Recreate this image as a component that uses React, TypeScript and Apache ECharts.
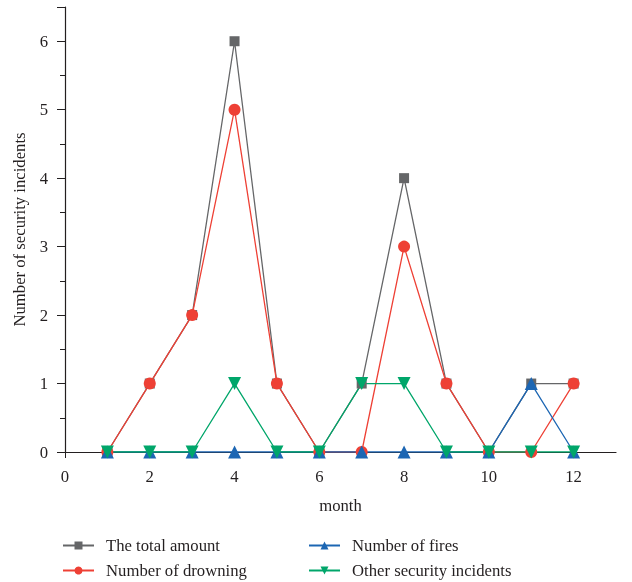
import React, { useEffect, useRef } from "react";
import * as echarts from "echarts";

const months = [1, 2, 3, 4, 5, 6, 7, 8, 9, 10, 11, 12];
const totalAmount = [0, 1, 2, 6, 1, 0, 1, 4, 1, 0, 1, 1];
const drowning = [0, 1, 2, 5, 1, 0, 0, 3, 1, 0, 0, 1];
const fires = [0, 0, 0, 0, 0, 0, 0, 0, 0, 0, 1, 0];
const others = [0, 0, 0, 1, 0, 0, 1, 1, 0, 0, 0, 0];

const seriesNames = [
  "The total amount",
  "Number of drowning",
  "Number of fires",
  "Other security incidents",
];

const FONT = "Liberation Serif, Times New Roman, DejaVu Serif, serif";
const TEXT = "#231f20";

export default function App() {
  const ref = useRef<HTMLDivElement>(null);
  useEffect(() => {
    if (!ref.current) return;
    const chart = echarts.init(ref.current, undefined, { renderer: "svg" });
    const pair = (vals: number[]) => months.map((m, i) => [m, vals[i]]);
    const mk = (name: string, vals: number[], color: string, symbol: string, size: number, rotate = 0) => ({
      name,
      type: "line",
      data: pair(vals),
      symbol,
      symbolSize: size,
      symbolRotate: rotate,
      showAllSymbol: true,
      lineStyle: { color, width: 1.3 },
      itemStyle: { color },
      emphasis: { disabled: true },
    });
    const legendBase = {
      orient: "vertical",
      bottom: 3,
      itemWidth: 31,
      itemHeight: 10,
      itemGap: 8,
      padding: 0,
      textStyle: { fontFamily: FONT, fontSize: 16.7, color: TEXT, padding: [0, 0, 0, 7] },
    };
    chart.setOption({
      animation: false,
      textStyle: { fontFamily: FONT },
      grid: { left: 65, right: 16, top: 7, bottom: 130 },
      legend: [
        { ...legendBase, data: [seriesNames[0], seriesNames[1]], left: 62 },
        { ...legendBase, data: [seriesNames[2], seriesNames[3]], left: 308 },
      ],
      xAxis: {
        type: "value",
        min: 0,
        max: 13,
        interval: 2,
        name: "month",
        nameLocation: "middle",
        nameGap: 45,
        nameTextStyle: { fontFamily: FONT, fontSize: 16.7, color: TEXT },
        axisLine: { lineStyle: { color: TEXT, width: 1.2 } },
        axisTick: { show: true, inside: false, length: 6, lineStyle: { color: TEXT } },
        axisLabel: {
          fontFamily: FONT,
          fontSize: 16.7,
          color: TEXT,
          margin: 16,
          showMaxLabel: false,
        },
        splitLine: { show: false },
      },
      yAxis: {
        type: "value",
        min: 0,
        max: 6.5,
        interval: 1,
        name: "Number of security incidents",
        nameLocation: "middle",
        nameGap: 37,
        nameTextStyle: { fontFamily: FONT, fontSize: 16.7, color: TEXT },
        axisLine: { show: true, lineStyle: { color: TEXT, width: 1.2 } },
        axisTick: { show: true, length: 8, lineStyle: { color: TEXT } },
        minorTick: { show: true, splitNumber: 2, length: 5, lineStyle: { color: TEXT } },
        axisLabel: {
          fontFamily: FONT,
          fontSize: 16.7,
          color: TEXT,
          margin: 17,
          showMaxLabel: false,
        },
        splitLine: { show: false },
      },
      series: [
        mk(seriesNames[0], totalAmount, "#656668", "rect", 10),
        mk(seriesNames[1], drowning, "#ee4035", "circle", 12),
        mk(seriesNames[2], fires, "#1c66b3", "triangle", 13),
        mk(seriesNames[3], others, "#00a66a", "triangle", 13, 180),
      ],
    });
    return () => chart.dispose();
  }, []);
  return (
    <div
      ref={ref}
      style={{ position: "fixed", left: 0, top: 0, width: 632, height: 582 }}
    />
  );
}
